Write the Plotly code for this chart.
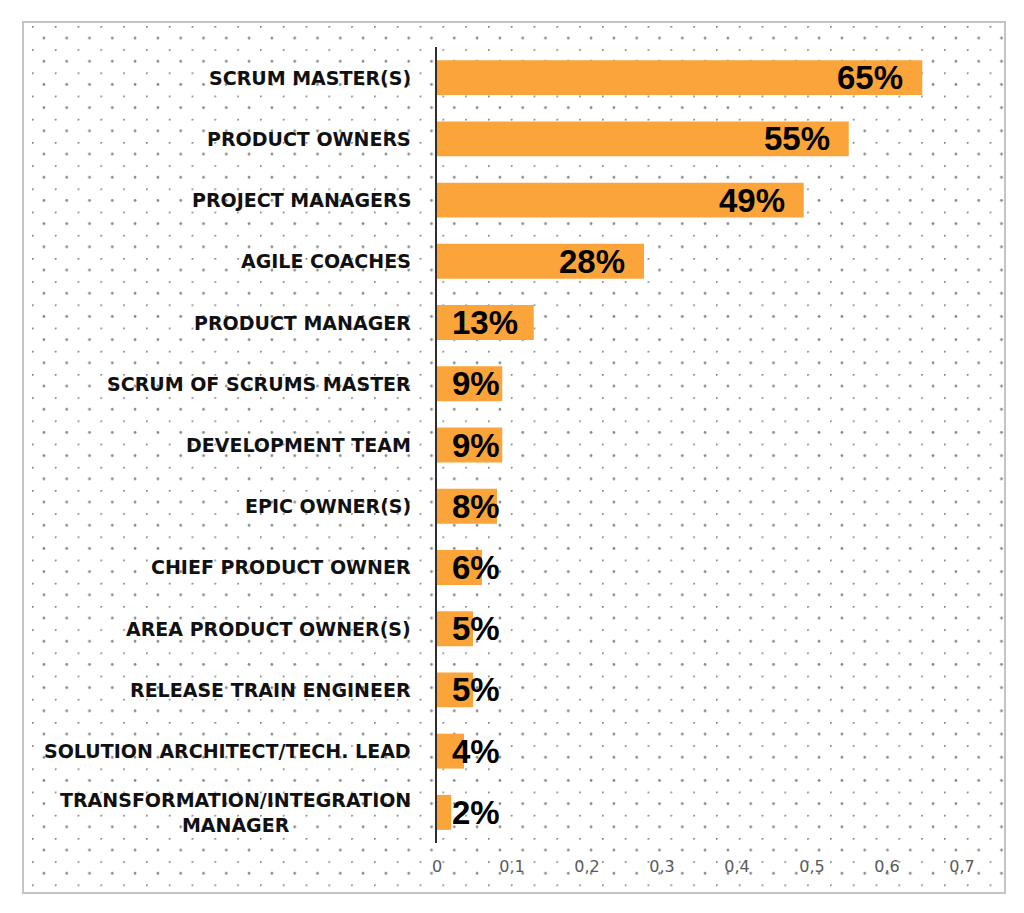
import base64
import plotly.graph_objects as go

# ---- data ----
categories = [
    "SCRUM MASTER(S)",
    "PRODUCT OWNERS",
    "PROJECT MANAGERS",
    "AGILE COACHES",
    "PRODUCT MANAGER",
    "SCRUM OF SCRUMS MASTER",
    "DEVELOPMENT TEAM",
    "EPIC OWNER(S)",
    "CHIEF PRODUCT OWNER",
    "AREA PRODUCT OWNER(S)",
    "RELEASE TRAIN ENGINEER",
    "SOLUTION ARCHITECT/TECH. LEAD",
    "TRANSFORMATION/INTEGRATION<br>MANAGER",
]
values = [0.647, 0.549, 0.489, 0.276, 0.129, 0.087, 0.087, 0.080, 0.060, 0.048, 0.048, 0.036, 0.019]
value_labels = ["65%", "55%", "49%", "28%", "13%", "9%", "9%", "8%", "6%", "5%", "5%", "4%", "2%"]
tick_vals = [0, 0.1, 0.2, 0.3, 0.4, 0.5, 0.6, 0.7]
tick_text = ["0", "0,1", "0,2", "0,3", "0,4", "0,5", "0,6", "0,7"]

BAR_COLOR = "#FAA43A"

# ---- figure geometry (pixels) ----
FIG_W, FIG_H = 1024, 913
L, R, T, B = 437, 62, 47, 70
PW, PH = FIG_W - L - R, FIG_H - T - B

def px_to_paper_x(px):
    return (px - L) / PW

def px_to_paper_y(py):
    return (FIG_H - B - py) / PH

# dotted background texture (decoration)
bx0, by0, bx1, by1 = 23, 22, 1005, 893
W, H = bx1 - bx0, by1 - by0
svg = (
    f'<svg xmlns="http://www.w3.org/2000/svg" width="{W}" height="{H}">'
    '<defs><pattern id="p" x="9" y="4" width="22.8" height="23.2" patternUnits="userSpaceOnUse">'
    '<circle cx="0.5" cy="0.5" r="1.35" fill="#858585"/>'
    '<circle cx="11.9" cy="12.1" r="1.35" fill="#858585"/>'
    '</pattern></defs>'
    '<rect width="100%" height="100%" fill="white"/>'
    '<rect width="100%" height="100%" fill="url(#p)"/></svg>'
)
src = "data:image/svg+xml;base64," + base64.b64encode(svg.encode()).decode()

fig = go.Figure()
fig.add_trace(go.Bar(
    y=categories,
    x=values,
    orientation="h",
    marker=dict(color=BAR_COLOR, line=dict(width=0)),
    hoverinfo="skip",
    showlegend=False,
))

annotations = []
# category labels
for cat in categories:
    annotations.append(dict(
        x=0, xref="paper", y=cat, yref="y",
        text=cat, showarrow=False,
        xanchor="right", yanchor="middle", align="center",
        xshift=-24,
        font=dict(family="DejaVu Sans", size=19, color="#111111", weight="bold"),
    ))
# value labels
for cat, v, lab in zip(categories, values, value_labels):
    if v >= 0.2:
        ann = dict(x=v, xanchor="right", xshift=-17)
    else:
        ann = dict(x=0, xanchor="left", xshift=13)
    ann.update(dict(
        xref="x", y=cat, yref="y", text=lab, showarrow=False, yanchor="middle",
        font=dict(family="Liberation Sans", size=33, color="#000000", weight="bold"),
    ))
    annotations.append(ann)

fig.update_layout(
    width=FIG_W, height=FIG_H,
    margin=dict(l=L, r=R, t=T, b=B),
    paper_bgcolor="white",
    plot_bgcolor="rgba(0,0,0,0)",
    bargap=0.43,
    annotations=annotations,
    images=[dict(
        source=src, xref="paper", yref="paper",
        x=px_to_paper_x(bx0), y=px_to_paper_y(by0),
        sizex=(bx1 - bx0) / PW, sizey=(by1 - by0) / PH,
        xanchor="left", yanchor="top", sizing="stretch", layer="below",
    )],
    shapes=[dict(
        type="rect", xref="paper", yref="paper",
        x0=px_to_paper_x(bx0), x1=px_to_paper_x(bx1),
        y0=px_to_paper_y(by1), y1=px_to_paper_y(by0),
        line=dict(color="#c4c4c4", width=2), layer="above",
    )],
)
fig.update_xaxes(
    range=[0, 0.7], tickvals=tick_vals, ticktext=tick_text,
    showgrid=False, zeroline=False, showline=False,
    ticks="", ticklabelstandoff=12,
    tickfont=dict(family="DejaVu Sans", size=16, color="#5a5a5a"),
)
fig.update_yaxes(
    autorange="reversed", showticklabels=False, showgrid=False,
    zeroline=False, showline=True, linecolor="#2e2e2e", linewidth=2, ticks="",
)

fig.write_html(
    "out.html",
    config={"displayModeBar": False},
    post_script="document.body.style.margin='0';",
)
